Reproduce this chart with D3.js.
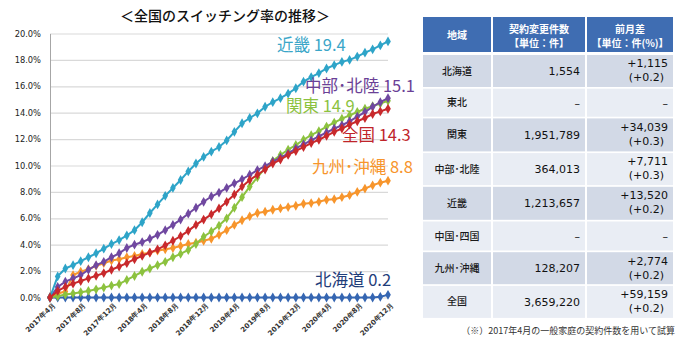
<!DOCTYPE html>
<html>
<head>
<meta charset="utf-8">
<script src="https://cdn.jsdelivr.net/npm/d3@7"></script>
<style>
  body { margin: 0; background: #fff; }
  svg { display: block; }
</style>
</head>
<body>
<div id="chart"></div>
<script>
// months 2017年4月 .. 2020年12月
const months = [];
for (let y = 2017; y <= 2020; y++) {
    for (let m = (y === 2017 ? 4 : 1); m <= 12; m++) months.push(`${y}年${m}月`);
}
const tickLabels = ["2017年4月", "2017年8月", "2017年12月", "2018年4月", "2018年8月", "2018年12月",
    "2019年4月", "2019年8月", "2019年12月", "2020年4月", "2020年8月", "2020年12月"];
const yTicks = [0, 2, 4, 6, 8, 10, 12, 14, 16, 18, 20];

const hokkaido = [0, 0, 0, 0, 0, 0, 0, 0, 0, 0, 0, 0, 0, 0, 0, 0, 0, 0, 0, 0, 0, 0, 0, 0, 0, 0, 0, 0, 0, 0,
    0, 0, 0, 0, 0, 0, 0, 0, 0, 0, 0, 0, 0, 0.05, 0.2];
const kyushu = [0, 0.3, 0.45, 1.7, 1.95, 2.15, 2.4, 2.6, 2.8, 2.9,
    3.05, 3.15, 3.3, 3.4, 3.55, 3.65, 3.75, 3.9, 4.05, 4.15,
    4.3, 4.45, 4.75, 5.1, 5.5, 5.85, 6.15, 6.4, 6.5, 6.65,
    6.75, 6.85, 6.95, 7.1, 7.15, 7.25, 7.4, 7.45, 7.6, 7.75,
    8.0, 8.25, 8.5, 8.7, 8.85];
const kanto = [0, 0.1, 0.22, 0.3, 0.4, 0.5, 0.62, 0.75, 0.9, 1.02,
    1.33, 1.63, 1.95, 2.2, 2.45, 2.7, 3.05, 3.3, 3.6, 4.05,
    4.6, 5.0, 5.45, 6.0, 6.8, 7.6, 8.4, 9.1, 9.8, 10.35,
    10.8, 11.2, 11.55, 11.95, 12.3, 12.6, 12.95, 13.25, 13.55, 13.8,
    14.05, 14.3, 14.5, 14.7, 14.9];
const chubu = [0, 0.8, 1.2, 1.45, 1.7, 2.1, 2.45, 2.7, 3.05, 3.35,
    3.75, 4.0, 4.2, 4.45, 4.75, 5.1, 5.5, 5.9, 6.35, 6.8,
    7.25, 7.65, 7.95, 8.3, 8.65, 8.95, 9.3, 9.65, 9.95, 10.3,
    10.6, 10.9, 11.3, 11.6, 11.9, 12.2, 12.5, 12.8, 13.05, 13.35,
    13.7, 14.05, 14.45, 14.8, 15.1];
const kinki = [0, 1.6, 2.2, 2.45, 2.75, 3.05, 3.35, 3.7, 4.05, 4.35,
    4.7, 5.1, 5.7, 6.4, 7.05, 7.7, 8.3, 8.9, 9.55, 10.15,
    10.65, 11.05, 11.4, 11.9, 12.55, 13.2, 13.6, 13.95, 14.45, 14.8,
    15.1, 15.45, 15.85, 16.35, 16.7, 17.0, 17.35, 17.6, 17.85, 18.0,
    18.25, 18.55, 18.8, 19.1, 19.4];
const zenkoku = [0, 0.5, 0.8, 1.05, 1.25, 1.45, 1.65, 1.85, 2.1, 2.35,
    2.6, 2.9, 3.15, 3.4, 3.65, 3.95, 4.3, 4.65, 5.05, 5.5,
    5.9, 6.3, 6.75, 7.25, 7.8, 8.4, 8.9, 9.3, 9.7, 10.15,
    10.45, 10.8, 11.1, 11.4, 11.7, 11.95, 12.25, 12.55, 12.8, 13.1,
    13.35, 13.6, 13.9, 14.1, 14.3];

const series = [
    {name: "北海道", values: hokkaido, color: "#3566b2", text: "#1f3d7a", label: "北海道 0.2", lx: 315, lv: 1.3},
    {name: "九州･沖縄", values: kyushu, color: "#f7952c", text: "#f7952c", label: "九州･沖縄 8.8", lx: 312, lv: 9.9},
    {name: "関東", values: kanto, color: "#8cc23f", text: "#8cc23f", label: "関東 14.9", lx: 286, lv: 14.5},
    {name: "中部･北陸", values: chubu, color: "#7048a0", text: "#6a4096", label: "中部･北陸 15.1", lx: 305, lv: 16.0},
    {name: "近畿", values: kinki, color: "#2ea4c8", text: "#3aa6c8", label: "近畿 19.4", lx: 277, lv: 19.1},
    {name: "全国", values: zenkoku, color: "#c8292c", text: "#c0242a", label: "全国 14.3", lx: 342, lv: 12.3}
];

// table
const regions = ["北海道", "東北", "関東", "中部･北陸", "近畿", "中国･四国", "九州･沖縄", "全国"];
const counts = ["1,554", "–", "1,951,789", "364,013", "1,213,657", "–", "128,207", "3,659,220"];
const diffs = ["+1,115", "–", "+34,039", "+7,711", "+13,520", "–", "+2,774", "+59,159"];
const diffPct = ["(+0.2)", "", "(+0.3)", "(+0.3)", "(+0.2)", "", "(+0.2)", "(+0.2)"];
const rowHeights = [32, 28, 33, 32, 33, 29, 32, 32];

const width = 690, height = 354;
const svg = d3.select("#chart").append("svg")
    .attr("width", width)
    .attr("height", height);

const cjk = "'Noto Sans CJK JP', 'Noto Sans', sans-serif";
const latin = "'DejaVu Sans', Verdana, sans-serif";

svg.append("text")
    .attr("x", 225).attr("y", 21)
    .attr("text-anchor", "middle")
    .attr("font-family", cjk)
    .attr("font-size", 14)
    .attr("font-weight", 500)
    .attr("fill", "#111")
    .text("＜全国のスイッチング率の推移＞");

const x = d3.scalePoint().domain(months).range([50, 388]);
const y = d3.scaleLinear().domain([0, 20]).range([297.5, 33.5]);

// gridlines
svg.append("g")
    .attr("transform", "translate(50,0)")
    .call(d3.axisLeft(y).tickValues(yTicks).tickSize(-338).tickFormat(""))
    .call(g => g.select(".domain").remove())
    .call(g => g.selectAll(".tick line").attr("stroke", "#d9d9d9").attr("stroke-width", 1.2));

svg.append("g")
    .attr("transform", "translate(50,0)")
    .call(d3.axisLeft(y).tickValues(yTicks).tickSize(0).tickSizeOuter(0).tickPadding(9)
        .tickFormat(d => d.toFixed(1) + "%"))
    .call(g => g.select(".domain").attr("stroke", "#a6a6a6"))
    .call(g => g.selectAll("text")
        .attr("font-family", latin)
        .attr("font-size", 8.3)
        .attr("fill", "#222"));

svg.append("g")
    .attr("transform", "translate(0,297.5)")
    .call(d3.axisBottom(x).tickValues(tickLabels).tickSize(0).tickSizeOuter(0))
    .call(g => g.select(".domain").remove())
    .call(g => g.selectAll("text")
        .attr("font-family", latin)
        .attr("font-size", 7)
        .attr("font-weight", "bold")
        .attr("fill", "#333")
        .attr("text-anchor", "end")
        .attr("dy", 0)
        .attr("transform", "translate(3,6) rotate(-45)"));

const line = d3.line()
    .x((d, i) => x(months[i]))
    .y(d => y(d));

const diamond = d3.symbol(d3.symbolDiamond, 28);

const sg = svg.selectAll(".series")
    .data(series)
    .join("g")
    .attr("class", "series");

sg.append("path")
    .attr("d", d => line(d.values))
    .attr("fill", "none")
    .attr("stroke", d => d.color)
    .attr("stroke-width", 2);

sg.each(function (s) {
    d3.select(this).selectAll("path.mk")
        .data(s.values)
        .join("path")
        .attr("class", "mk")
        .attr("d", diamond)
        .attr("transform", (d, i) => `translate(${x(months[i])},${y(d)})`)
        .attr("fill", s.color);
});

svg.selectAll(".lbl")
    .data(series)
    .join("text")
    .attr("class", "lbl")
    .attr("x", d => d.lx)
    .attr("y", d => y(d.lv))
    .attr("dy", "0.35em")
    .attr("font-family", cjk)
    .attr("font-size", 16.5)
    .attr("fill", d => d.text)
    .text(d => d.label);

// table
const cols = [{x0: 423, x1: 491}, {x0: 493, x1: 585}, {x0: 587, x1: 673}];
const tbl = svg.append("g");

cols.forEach(c => {
    tbl.append("rect")
        .attr("x", c.x0).attr("y", 17)
        .attr("width", c.x1 - c.x0).attr("height", 35)
        .attr("fill", "#3f6db2");
});
const hdr = [["地域"], ["契約変更件数", "【単位：件】"], ["前月差", "【単位：件(%)】"]];
hdr.forEach((lines, ci) => {
    const cx = (cols[ci].x0 + cols[ci].x1) / 2;
    lines.forEach((t, li) => {
        tbl.append("text")
            .attr("x", cx)
            .attr("y", lines.length === 1 ? 35 : 29 + li * 14)
            .attr("dy", "0.35em")
            .attr("text-anchor", "middle")
            .attr("font-family", cjk)
            .attr("font-size", 10)
            .attr("font-weight", "bold")
            .attr("fill", "#fff")
            .text(t);
    });
});

let rowTop = 55;
regions.forEach((r, i) => {
    const h = rowHeights[i];
    const fill = i % 2 === 0 ? "#d2d9e6" : "#e9edf4";
    cols.forEach(c => {
        tbl.append("rect")
            .attr("x", c.x0).attr("y", rowTop)
            .attr("width", c.x1 - c.x0).attr("height", h)
            .attr("fill", fill);
    });
    const mid = rowTop + h / 2;
    tbl.append("text")
        .attr("x", (cols[0].x0 + cols[0].x1) / 2).attr("y", mid)
        .attr("dy", "0.35em")
        .attr("text-anchor", "middle")
        .attr("font-family", cjk)
        .attr("font-size", 10)
        .attr("font-weight", 500)
        .attr("fill", "#1a1a1a")
        .text(r);
    tbl.append("text")
        .attr("x", 580).attr("y", mid)
        .attr("dy", "0.35em")
        .attr("text-anchor", "end")
        .attr("font-family", latin)
        .attr("font-size", 11)
        .attr("fill", "#111")
        .text(counts[i]);
    if (diffPct[i]) {
        tbl.append("text")
            .attr("x", 668).attr("y", rowTop + 8.5)
            .attr("dy", "0.35em")
            .attr("text-anchor", "end")
            .attr("font-family", latin)
            .attr("font-size", 11)
            .attr("fill", "#111")
            .text(diffs[i]);
        tbl.append("text")
            .attr("x", 664).attr("y", rowTop + 22.5)
            .attr("dy", "0.35em")
            .attr("text-anchor", "end")
            .attr("font-family", latin)
            .attr("font-size", 11)
            .attr("fill", "#111")
            .text(diffPct[i]);
    } else {
        tbl.append("text")
            .attr("x", 668).attr("y", mid)
            .attr("dy", "0.35em")
            .attr("text-anchor", "end")
            .attr("font-family", latin)
            .attr("font-size", 11)
            .attr("fill", "#111")
            .text(diffs[i]);
    }
    rowTop += h + 1.7;
});

svg.append("text")
    .attr("x", 675).attr("y", 331)
    .attr("dy", "0.35em")
    .attr("text-anchor", "end")
    .attr("font-family", cjk)
    .attr("font-size", 9)
    .attr("fill", "#333")
    .text("（※）2017年4月の一般家庭の契約件数を用いて試算");
</script>
</body>
</html>
